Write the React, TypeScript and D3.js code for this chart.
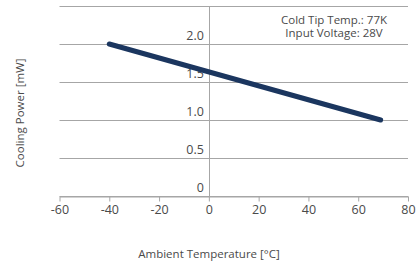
import React, { useEffect, useRef } from 'react';
import * as d3 from 'd3';

const temps = [-40, 69];
const power = [2.0, 1.0];
const xTicks = [-60, -40, -20, 0, 20, 40, 60, 80];
const yTicks = [0, 0.5, 1.0, 1.5, 2.0, 2.5];
const yLabels = ['0', '0.5', '1.0', '1.5', '2.0', ''];
const notes = ['Cold Tip Temp.: 77K', 'Input Voltage: 28V'];

const W = 416;
const H = 266;
const font = '"Open Sans", sans-serif';
const textColor = '#4a4a4a';

const renderChart = (el: SVGSVGElement) => {
  const svg = d3.select(el);
  svg.selectAll('*').remove();

  const x = d3.scaleLinear().domain([-60, 80]).range([59.5, 408]);
  const y = d3.scaleLinear().domain([0, 2.5]).range([196, 6]);

  // horizontal grid
  svg.append('g')
    .selectAll('line')
    .data(yTicks)
    .enter().append('line')
      .attr('x1', x(-60)).attr('x2', x(80))
      .attr('y1', d => Math.round(y(d)) + 0.5)
      .attr('y2', d => Math.round(y(d)) + 0.5)
      .attr('stroke', '#a6a6a6')
      .attr('stroke-width', 1);

  // vertical axis at 0
  svg.append('line')
    .attr('x1', Math.round(x(0)) + 0.5).attr('x2', Math.round(x(0)) + 0.5)
    .attr('y1', y(2.5)).attr('y2', y(0))
    .attr('stroke', '#a6a6a6');

  // x axis
  const xAxis = d3.axisBottom(x)
    .tickValues(xTicks)
    .tickSize(5)
    .tickSizeOuter(0)
    .tickPadding(4)
    .tickFormat(d => String(d));
  const gx = svg.append('g')
    .attr('transform', `translate(0,${Math.round(y(0)) + 0.5})`)
    .call(xAxis);
  gx.select('.domain').attr('stroke', '#a6a6a6');
  gx.selectAll('.tick line').attr('stroke', '#a6a6a6');
  gx.selectAll('.tick text')
    .attr('fill', textColor)
    .style('font-family', font)
    .style('font-size', '12.5px');

  // y labels left of zero line, above grid lines
  svg.append('g')
    .selectAll('text')
    .data(yTicks)
    .enter().append('text')
      .attr('x', x(0) - 5)
      .attr('y', d => y(d) - 4)
      .attr('text-anchor', 'end')
      .attr('fill', textColor)
      .style('font-family', font)
      .style('font-size', '12.5px')
      .text((d, i) => yLabels[i]);

  // series
  const line = d3.line<number>()
    .x(d => x(d))
    .y((d, i) => y(power[i]));
  svg.append('path')
    .datum(temps)
    .attr('d', line)
    .attr('fill', 'none')
    .attr('stroke', '#1b365f')
    .attr('stroke-width', 5)
    .attr('stroke-linecap', 'round');

  // annotation
  svg.append('g')
    .selectAll('text')
    .data(notes)
    .enter().append('text')
      .attr('x', 334)
      .attr('y', (d, i) => 24 + i * 13)
      .attr('text-anchor', 'middle')
      .attr('fill', textColor)
      .style('font-family', font)
      .style('font-size', '11.5px')
      .text(d => d);

  // axis titles
  svg.append('text')
    .attr('x', 209)
    .attr('y', 258)
    .attr('text-anchor', 'middle')
    .attr('fill', textColor)
    .style('font-family', font)
    .style('font-size', '11.5px')
    .text('Ambient Temperature [°C]');

  svg.append('text')
    .attr('transform', `translate(24,113) rotate(-90)`)
    .attr('text-anchor', 'middle')
    .attr('fill', textColor)
    .style('font-family', font)
    .style('font-size', '11.5px')
    .text('Cooling Power [mW]');
};

export default function App() {
  const ref = useRef<SVGSVGElement>(null);
  useEffect(() => {
    if (ref.current) renderChart(ref.current);
  }, []);
  return (
    <svg
      ref={ref}
      width={W}
      height={H}
      style={{ position: 'absolute', left: 0, top: 0, background: '#fff' }}
    />
  );
}
